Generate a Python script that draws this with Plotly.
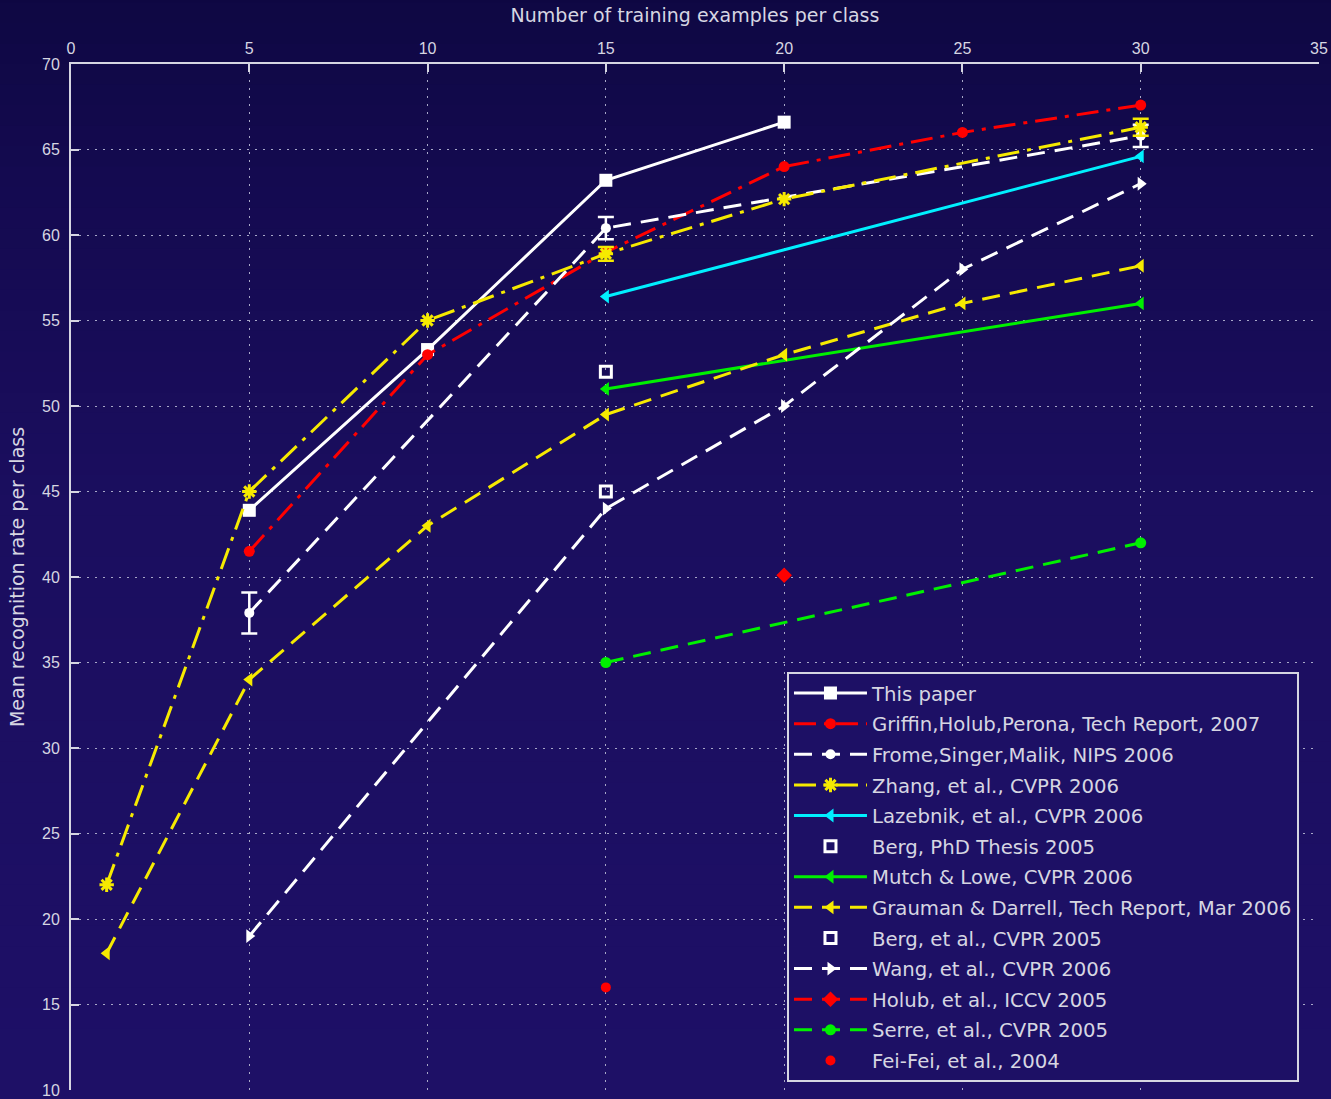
import plotly.graph_objects as go

# ---------------- data ----------------
x_this = [5, 10, 15, 20]
y_this = [43.9, 53.3, 63.2, 66.6]

x_griffin = [5, 10, 15, 20, 25, 30]
y_griffin = [41.5, 53.0, 59.0, 64.0, 66.0, 67.6]

x_frome = [5, 15, 30]
y_frome = [37.9, 60.4, 65.8]
e_frome = [1.2, 0.65, 0.65]

x_zhang = [1, 5, 10, 15, 20, 30]
y_zhang = [22.0, 45.0, 55.0, 58.9, 62.1, 66.3]
x_zhang_err = [15, 30]
y_zhang_err = [58.9, 66.3]
e_zhang = [0.4, 0.5]

x_lazebnik = [15, 30]
y_lazebnik = [56.4, 64.6]

x_berg_thesis = [15]
y_berg_thesis = [52.0]

x_mutch = [15, 30]
y_mutch = [51.0, 56.0]

x_grauman = [1, 5, 10, 15, 20, 25, 30]
y_grauman = [18.0, 34.0, 43.0, 49.5, 53.0, 56.0, 58.2]

x_berg_cvpr = [15]
y_berg_cvpr = [45.0]

x_wang = [5, 15, 20, 25, 30]
y_wang = [19.0, 44.0, 50.0, 58.0, 63.0]

x_holub = [20]
y_holub = [40.1]

x_serre = [15, 30]
y_serre = [35.0, 42.0]

x_feifei = [15]
y_feifei = [16.0]

x_ticks = [0, 5, 10, 15, 20, 25, 30, 35]
y_ticks = [10, 15, 20, 25, 30, 35, 40, 45, 50, 55, 60, 65, 70]

# ---------------- style ----------------
WHITE = "#ffffff"
RED = "#ff0000"
YELLOW = "#f6ea00"
CYAN = "#00f0ff"
GREEN = "#00f000"
TXT = "#d6d6e2"
FONT = "Liberation Sans"
TFONT = "DejaVu Sans"
DASH = "18px,10px"
DASHDOT = "22px,8px,4px,8px"

fig = go.Figure()


def add(x, y, name, color, dash=None, symbol="circle", size=10, mode="lines+markers",
        err=None, mline=None, group=None):
    marker = dict(symbol=symbol, size=size, color=color)
    if mline is not None:
        marker["line"] = dict(color=color, width=mline)
    kw = {}
    if err is not None:
        kw["error_y"] = dict(type="data", array=err, visible=True, color=color,
                             thickness=2.5, width=8)
    fig.add_trace(go.Scatter(
        x=x, y=y, name=name, mode=mode,
        line=dict(color=color, width=3, dash=dash) if "lines" in mode else None,
        marker=marker, legendgroup=group or name, **kw))


add(x_this, y_this, "This paper", WHITE, None, "square", 13)
add(x_griffin, y_griffin, "Griffin,Holub,Perona, Tech Report, 2007", RED, DASHDOT, "circle", 11)
add(x_frome, y_frome, "Frome,Singer,Malik, NIPS 2006", WHITE, DASH, "circle", 10, err=e_frome)
add(x_zhang, y_zhang, "Zhang, et al., CVPR 2006", YELLOW, DASHDOT, "asterisk-open", 12, mline=3)
add(x_lazebnik, y_lazebnik, "Lazebnik, et al., CVPR 2006", CYAN, None, "triangle-left", 12)
add(x_berg_thesis, y_berg_thesis, "Berg, PhD Thesis 2005", WHITE, None, "square-open", 11,
    mode="markers", mline=3)
add(x_mutch, y_mutch, "Mutch & Lowe, CVPR 2006", GREEN, None, "triangle-left", 12)
add(x_grauman, y_grauman, "Grauman & Darrell, Tech Report, Mar 2006", YELLOW, DASH,
    "triangle-left", 12)
add(x_berg_cvpr, y_berg_cvpr, "Berg, et al., CVPR 2005", WHITE, None, "square-open", 11,
    mode="markers", mline=3)
add(x_wang, y_wang, "Wang, et al., CVPR 2006", WHITE, DASH, "triangle-right", 12)
add(x_holub, y_holub, "Holub, et al., ICCV 2005", RED, DASH, "diamond", 12)
add(x_serre, y_serre, "Serre, et al., CVPR 2005", GREEN, DASH, "circle", 11)
add(x_feifei, y_feifei, "Fei-Fei, et al., 2004", RED, None, "circle", 10, mode="markers")

# Zhang error bars
fig.add_trace(go.Scatter(
    x=x_zhang_err, y=y_zhang_err, mode="markers", showlegend=False,
    marker=dict(size=1, color="rgba(0,0,0,0)"), legendgroup="zerr",
    error_y=dict(type="data", array=e_zhang, visible=True, color=YELLOW,
                 thickness=2.5, width=8)))

# ---------------- background gradient ----------------
stops = [(0.0, (13, 7, 64)), (0.18, (20, 10, 80)), (0.45, (27, 14, 95)), (1.0, (30, 16, 104))]


def col_at(t):
    for (t0, c0), (t1, c1) in zip(stops[:-1], stops[1:]):
        if t0 <= t <= t1:
            f = (t - t0) / (t1 - t0)
            return "rgb(%d,%d,%d)" % tuple(round(a + (b - a) * f) for a, b in zip(c0, c1))
    return "rgb(%d,%d,%d)" % stops[-1][1]


shapes = []
N = 60
for i in range(N):
    t = (i + 0.5) / N  # from top
    shapes.append(dict(type="rect", xref="paper", yref="paper", layer="below",
                       x0=-0.1, x1=1.1, y0=1.1 - (i + 1) * 1.2 / N - 1e-3,
                       y1=1.1 - i * 1.2 / N,
                       fillcolor=col_at(t), line=dict(width=0)))

axis_common = dict(
    showline=True, linecolor=TXT, linewidth=2,
    ticks="inside", ticklen=8, tickwidth=2, tickcolor=TXT,
    showgrid=True, gridcolor="#a8a8c8", gridwidth=1, griddash="2px,6px",
    zeroline=False, tickfont=dict(family=FONT, size=16, color=TXT),
    automargin=False,
)

fig.update_layout(
    width=1331, height=1099,
    margin=dict(l=71, r=12, t=64, b=9, autoexpand=False),
    paper_bgcolor="rgb(13,7,64)", plot_bgcolor="rgba(0,0,0,0)",
    shapes=shapes,
    font=dict(family=FONT, color=TXT),
    xaxis=dict(range=[0, 35], side="top", tickvals=x_ticks, ticklabelstandoff=2,
               **axis_common,
               title=dict(text="Number of training examples per class",
                          font=dict(family=TFONT, size=19, color=TXT), standoff=12)),
    yaxis=dict(range=[10, 70], tickvals=y_ticks, ticklabelstandoff=6, **axis_common,
               title=dict(text="Mean recognition rate per class",
                          font=dict(family=TFONT, size=19, color=TXT), standoff=12)),
    legend=dict(x=0.5737, y=0.008, xanchor="left", yanchor="bottom",
                bgcolor="rgb(29,16,101)", bordercolor=TXT, borderwidth=2,
                font=dict(family=TFONT, size=19.7, color=TXT),
                itemwidth=73, tracegroupgap=2, traceorder="grouped"),
)

fig.write_html("out.html", config={"displayModeBar": False},
               post_script="document.body.style.margin='0';"
                           "document.body.style.background='rgb(13,7,64)';")
